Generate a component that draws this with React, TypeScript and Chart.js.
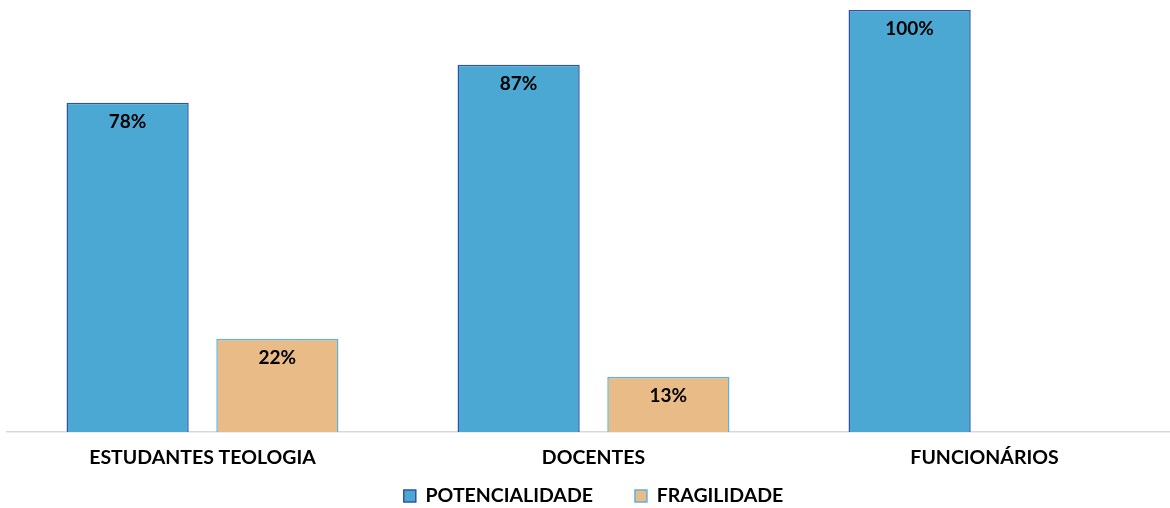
import React, { useEffect, useRef } from "react";
import { Chart, registerables } from "chart.js";

Chart.register(...registerables);

const categories = ["ESTUDANTES TEOLOGIA", "DOCENTES", "FUNCIONÁRIOS"];
const potencialidade = [78, 87, 100];
const fragilidade: (number | null)[] = [22, 13, null];
const seriesNames = ["POTENCIALIDADE", "FRAGILIDADE"];

const FONT = "Lato, 'Open Sans', sans-serif";

const valueLabels = {
  id: "valueLabels",
  afterDatasetsDraw(chart: any) {
    const ctx = chart.ctx;
    ctx.save();
    ctx.font = `bold 19px ${FONT}`;
    ctx.fillStyle = "#000000";
    ctx.textAlign = "center";
    ctx.textBaseline = "middle";
    chart.data.datasets.forEach((ds: any, i: number) => {
      const meta = chart.getDatasetMeta(i);
      meta.data.forEach((bar: any, j: number) => {
        const v = ds.data[j];
        if (v === null || v === undefined) return;
        ctx.fillText(`${v}%`, bar.x, bar.y + 19);
      });
    });
    ctx.restore();
  },
};

// move the legend up, right under the category labels
const legendShift = {
  id: "legendShift",
  afterLayout(chart: any) {
    const lg = chart.legend;
    if (!lg) return;
    const h = lg.height;
    lg.top = 444.3;
    lg.bottom = lg.top + h;
  },
};

export default function App() {
  const ref = useRef<HTMLCanvasElement | null>(null);
  useEffect(() => {
    if (!ref.current) return;
    const chart = new Chart(ref.current, {
      type: "bar",
      data: {
        labels: categories,
        datasets: [
          {
            label: seriesNames[0],
            data: potencialidade,
            backgroundColor: "#4aa8d2",
            borderColor: "#2f52a8",
            borderWidth: 1.5,
            barPercentage: 0.816,
            categoryPercentage: 0.766,
          },
          {
            label: seriesNames[1],
            data: fragilidade,
            backgroundColor: "#e8bb87",
            borderColor: "#5cb3db",
            borderWidth: 1.5,
            barPercentage: 0.816,
            categoryPercentage: 0.766,
          },
        ],
      },
      options: {
        animation: false,
        responsive: true,
        maintainAspectRatio: false,
        layout: { padding: { top: 10, left: 7, right: 0, bottom: -46.8 } },
        scales: {
          x: {
            grid: { display: false, drawTicks: false },
            border: { display: true, color: "#d9d9d9", width: 1.5 },
            ticks: {
              color: "#000000",
              font: { family: FONT, weight: "bold", size: 19.5, lineHeight: 1.2 },
              padding: 14,
            },
          },
          y: {
            display: false,
            min: 0,
            max: 100,
          },
        },
        plugins: {
          legend: {
            position: "bottom",
            labels: {
              color: "#000000",
              font: { family: FONT, weight: "bold", size: 19.5, lineHeight: 1.2 },
              boxWidth: 12,
              boxHeight: 12,
              padding: 42,
            },
          },
          tooltip: { enabled: false },
        },
      },
      plugins: [valueLabels, legendShift],
    });
    return () => chart.destroy();
  }, []);
  return (
    <div style={{ position: "fixed", left: 0, top: 0, width: 1170, height: 508, overflow: "hidden", background: "#fff" }}>
      <div style={{ position: "absolute", left: 0, top: 0, width: 1180, height: 508 }}>
        <canvas ref={ref} />
      </div>
    </div>
  );
}
